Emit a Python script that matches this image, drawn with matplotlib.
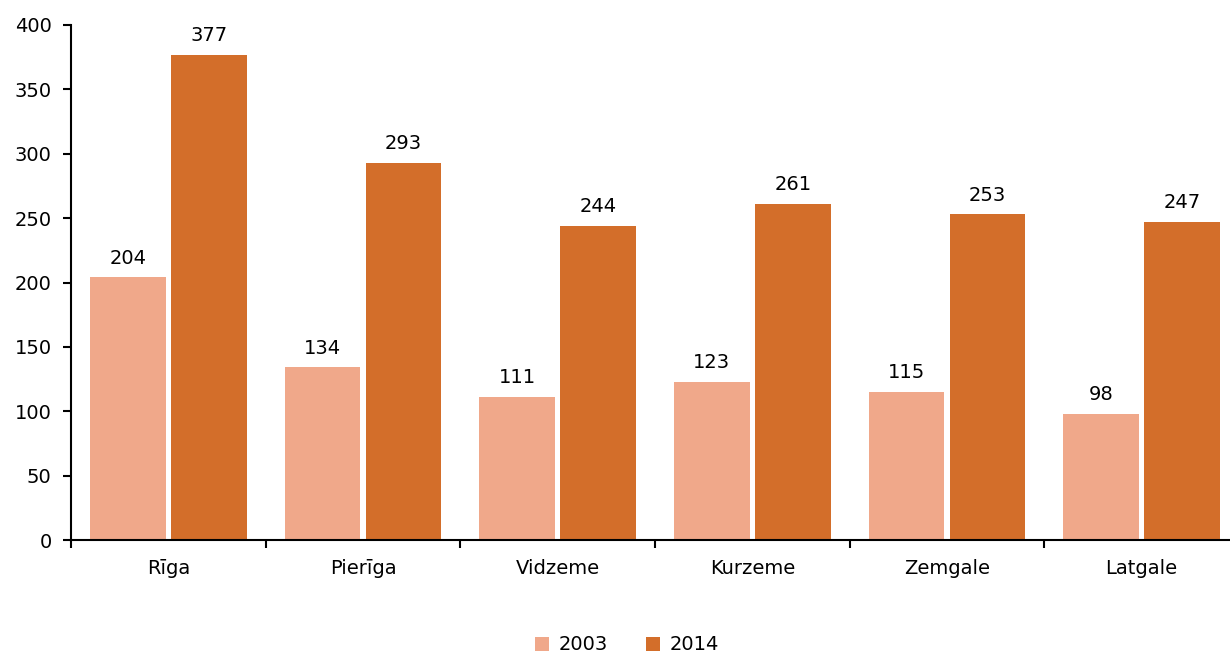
import numpy as np
import matplotlib
matplotlib.use("Agg")
from matplotlib import pyplot as plt

regions = ["Rīga", "Pierīga", "Vidzeme", "Kurzeme", "Zemgale", "Latgale"]
years = ["2003", "2014"]
vals2003 = [204, 134, 111, 123, 115, 98]
vals2014 = [377, 293, 244, 261, 253, 247]

col2003 = "#F0A88A"
col2014 = "#D36E2A"

plt.rcParams["font.family"] = "DejaVu Sans"
plt.rcParams["font.size"] = 14

fig = plt.figure(figsize=(12.3, 6.53), dpi=100)
ax = fig.add_axes([71 / 1230, 1 - 540 / 653, 1168 / 1230, 515 / 653])

x = np.arange(len(regions))
w = 0.39
off = 0.208
b1 = ax.bar(x - off, vals2003, w, color=col2003, label=years[0])
b2 = ax.bar(x + off, vals2014, w, color=col2014, label=years[1])

for bars in (b1, b2):
    for r in bars:
        h = r.get_height()
        ax.annotate(str(h), (r.get_x() + r.get_width() / 2, h),
                    xytext=(0, 7), textcoords="offset points",
                    ha="center", va="bottom", fontsize=14)

ax.set_xlim(-0.5, len(regions) - 0.5)
ax.set_ylim(0, 400)
ax.set_yticks(range(0, 401, 50))
ax.set_xticks(x)
ax.set_xticklabels(regions)
ax.tick_params(axis="x", length=0, pad=14)
ax.set_xticks(np.arange(-0.5, len(regions), 1), minor=True)
ax.tick_params(axis="x", which="minor", length=6, width=1.5, direction="out")
ax.tick_params(axis="y", length=6, width=1.5, direction="out", pad=8)

for s in ["top", "right"]:
    ax.spines[s].set_visible(False)
for s in ["left", "bottom"]:
    ax.spines[s].set_linewidth(1.5)

ax.legend(loc="center", bbox_to_anchor=(627 / 1230, 1 - 645 / 653),
          bbox_transform=fig.transFigure, ncol=2, frameon=False,
          handlelength=0.7, handleheight=0.7, handletextpad=0.5,
          columnspacing=2.0, fontsize=14)

fig.savefig("out.png", dpi=100)
